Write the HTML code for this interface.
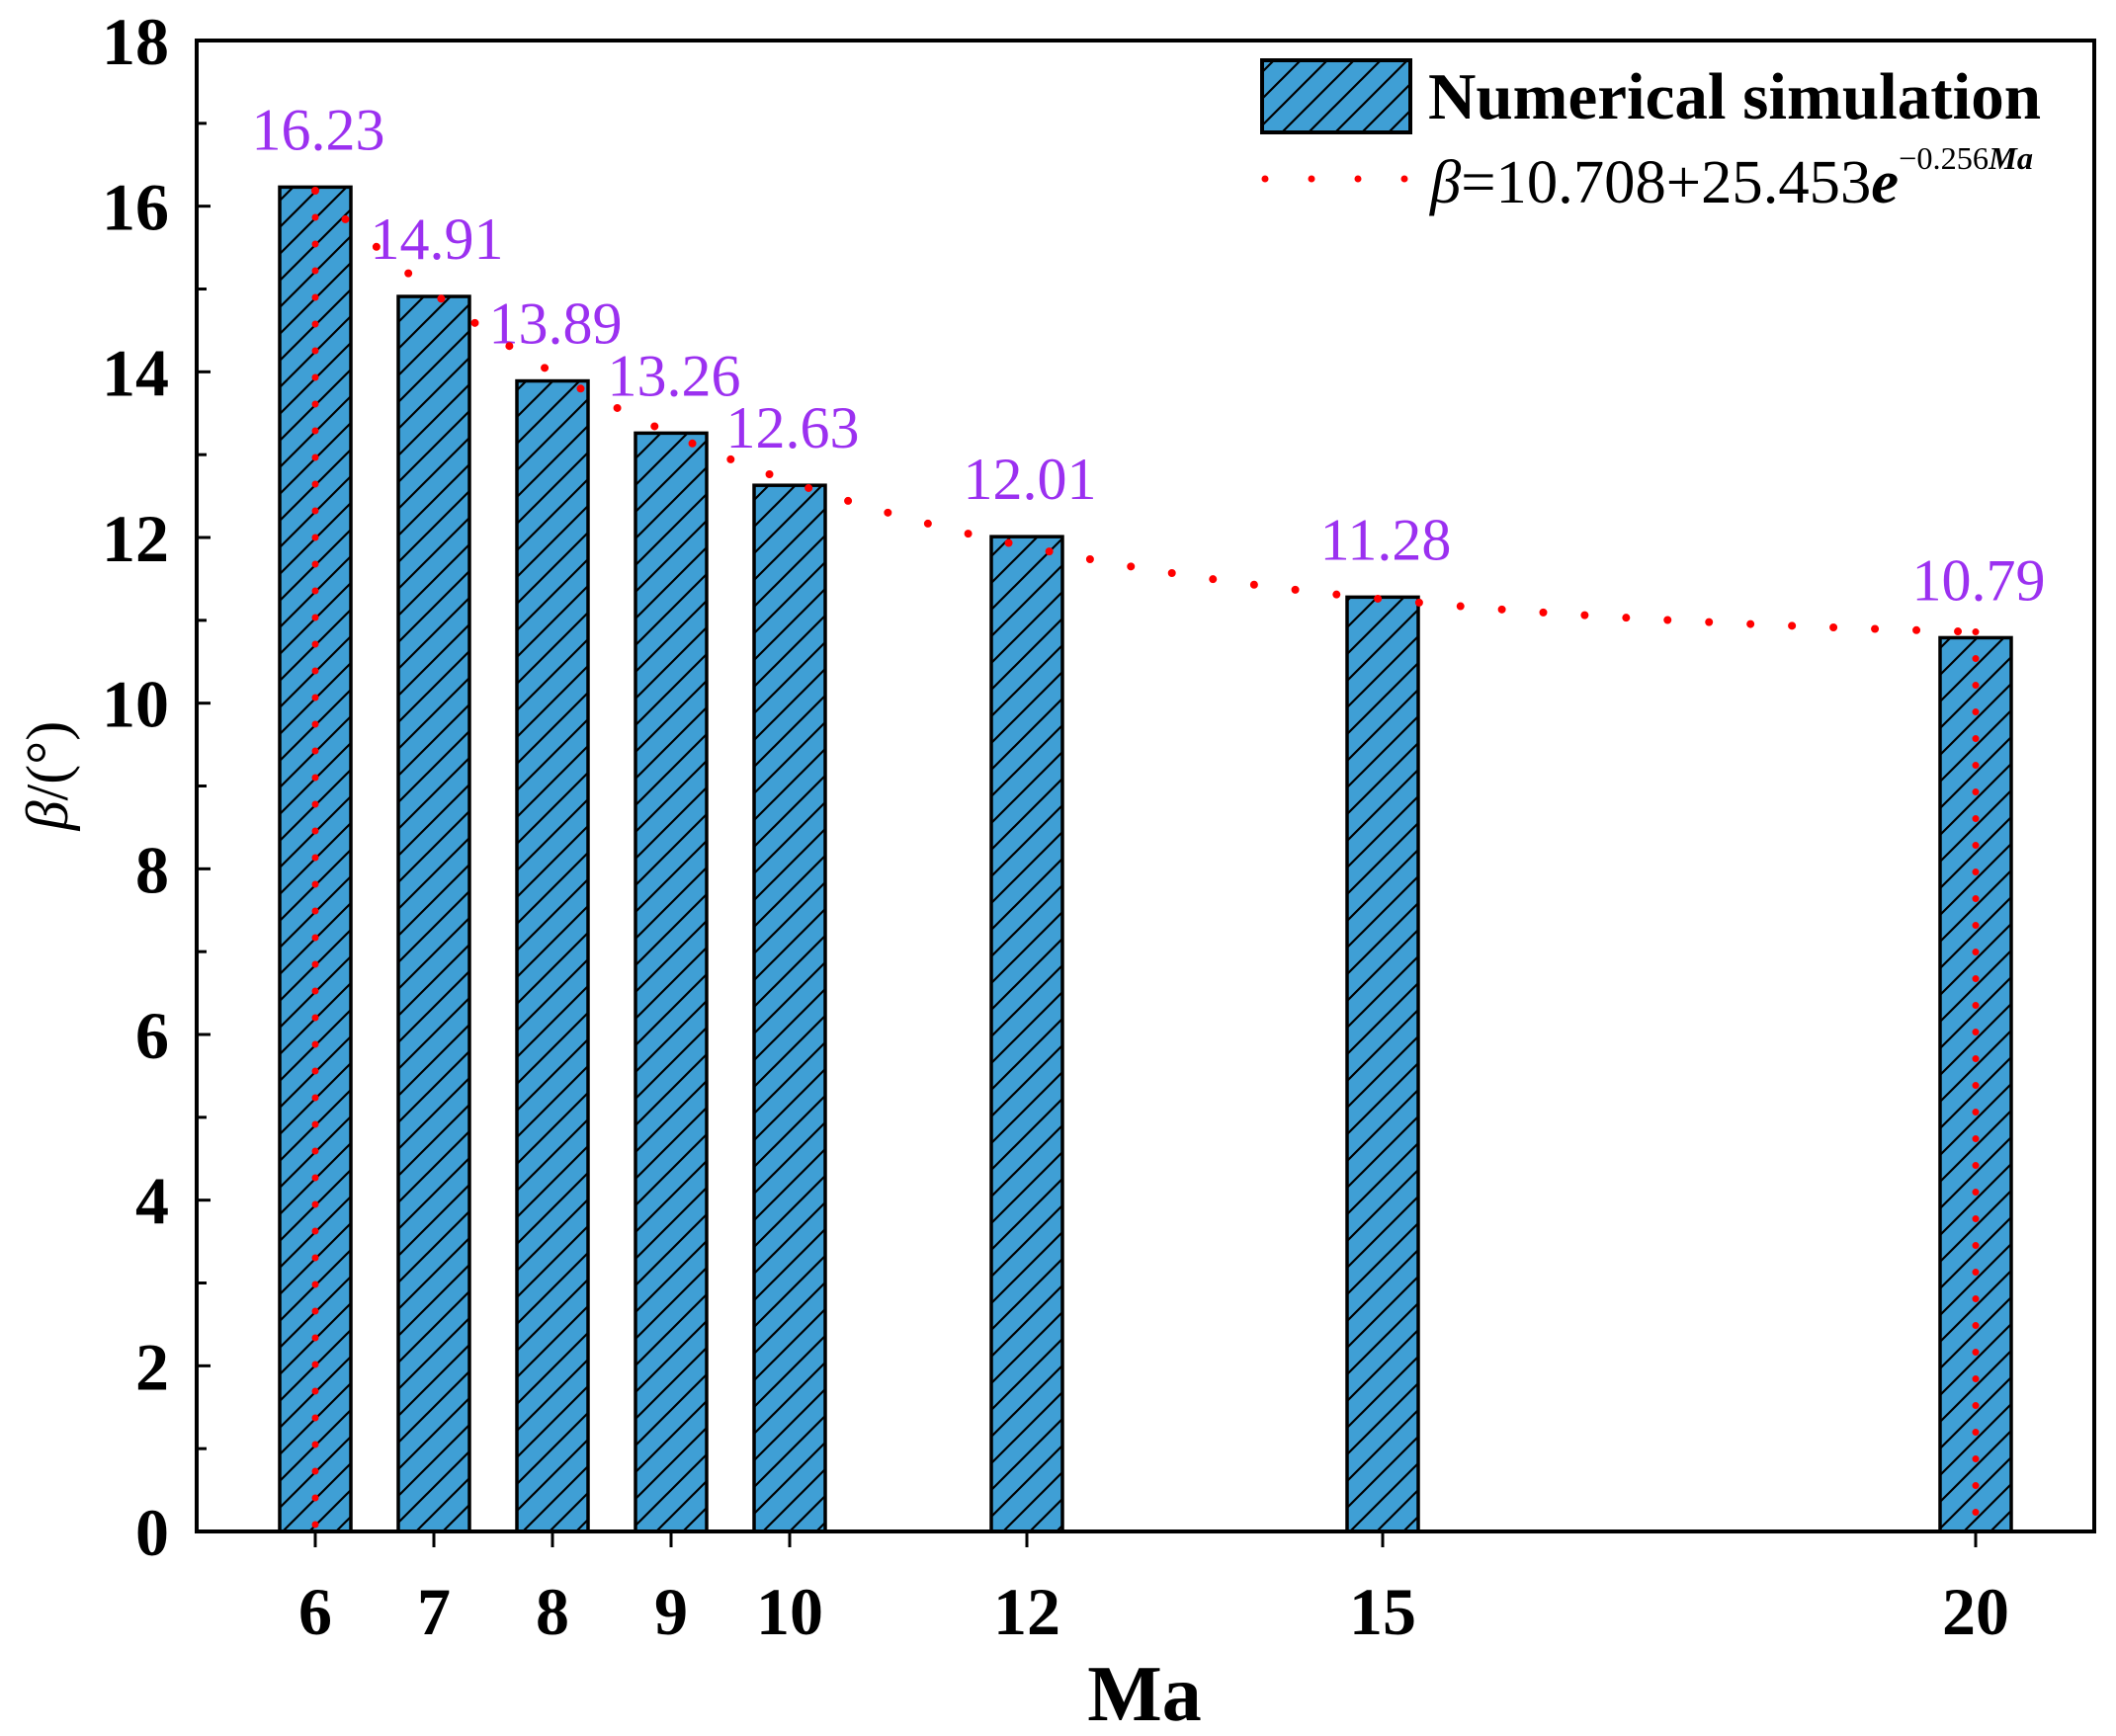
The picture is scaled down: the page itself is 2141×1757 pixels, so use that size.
<!DOCTYPE html>
<html><head><meta charset="utf-8"><style>
html,body{margin:0;padding:0;background:#fff;}
svg{display:block;}
</style></head><body>
<svg id="chart" width="2141" height="1757" viewBox="0 0 2141 1757" xmlns="http://www.w3.org/2000/svg">
<defs>
<pattern id="hatch" patternUnits="userSpaceOnUse" width="27" height="27" patternTransform="translate(0,0)">
<rect width="27" height="27" fill="#3f9fd5"/>
<path d="M-2,29 L29,-2 M-9,9 L9,-9 M18,36 L36,18" stroke="#000" stroke-width="2.2"/>
</pattern>
</defs>
<g id="plot"></g>
</svg>
<script>
const categories = [6, 7, 8, 9, 10, 12, 15, 20];
const values = [16.23, 14.91, 13.89, 13.26, 12.63, 12.01, 11.28, 10.79];
const labels = ["16.23", "14.91", "13.89", "13.26", "12.63", "12.01", "11.28", "10.79"];
const yTicks = [0, 2, 4, 6, 8, 10, 12, 14, 16, 18];
const fitA = [10.708];
const fitB = [25.453];
const fitK = [0.256];

const L = 199, R = 2119, T = 41, B = 1550;
const xMin = 5, xMax = 21, yMin = 0, yMax = 18;
const sx = v => L + (v - xMin) / (xMax - xMin) * (R - L);
const sy = v => B - (v - yMin) / (yMax - yMin) * (B - T);
const NS = "http://www.w3.org/2000/svg";
const g = document.getElementById('plot');
function mk(tag, attrs, parent) {
  const e = document.createElementNS(NS, tag);
  for (const k in attrs) e.setAttribute(k, attrs[k]);
  (parent || g).appendChild(e);
  return e;
}
const barW = 0.6 * (R - L) / (xMax - xMin);

// bars
categories.forEach((c, i) => {
  const r = mk('rect', {x: sx(c) - barW / 2, y: sy(values[i]), width: barW, height: sy(0) - sy(values[i]), fill: 'url(#hatch)', stroke: '#000', 'stroke-width': 3.5});
  
  
  const t = mk('text', {x: sx(c) + 3, y: sy(values[i]) - 38, 'text-anchor': 'middle', 'font-family': '"Liberation Serif", serif', 'font-size': 60, fill: '#9b30f0'});
  t.textContent = labels[i];
  
  
});

// fit curve
let d = '';
for (let m = 6; m <= 20.001; m += 0.1) {
  const y = fitA[0] + fitB[0] * Math.exp(-fitK[0] * m);
  d += (d ? ' L' : 'M') + sx(m).toFixed(1) + ',' + sy(y).toFixed(1);
}
const fit = mk('path', {d: d, fill: 'none', stroke: '#f00', 'stroke-width': 8, 'stroke-linecap': 'round', 'stroke-dasharray': '0 42'});


[[6, fitA[0] + fitB[0] * Math.exp(-fitK[0] * 6)], [20, fitA[0] + fitB[0] * Math.exp(-fitK[0] * 20)]].forEach(p => {
  const v = mk('line', {x1: sx(p[0]), y1: sy(p[1]), x2: sx(p[0]), y2: sy(0), stroke: '#f00', 'stroke-width': 7, 'stroke-linecap': 'round', 'stroke-dasharray': '0 27'});
  
  
});

// axes frame
const frame = mk('rect', {x: L, y: T, width: R - L, height: B - T, fill: 'none', stroke: '#000', 'stroke-width': 4});



// y ticks
yTicks.forEach(v => {
  mk('line', {x1: L, x2: L + 14, y1: sy(v), y2: sy(v), stroke: '#000', 'stroke-width': 3});
  const t = mk('text', {x: L - 28, y: sy(v) + 24, 'text-anchor': 'end', 'font-family': '"Liberation Serif", serif', 'font-weight': 'bold', 'font-size': 68});
  t.textContent = v;
  
  
  if (v < yMax) mk('line', {x1: L, x2: L + 10, y1: sy(v + 1), y2: sy(v + 1), stroke: '#000', 'stroke-width': 3});
});
// x ticks
categories.forEach(c => {
  mk('line', {x1: sx(c), x2: sx(c), y1: B, y2: B + 16, stroke: '#000', 'stroke-width': 3});
  const t = mk('text', {x: sx(c), y: B + 104, 'text-anchor': 'middle', 'font-family': '"Liberation Serif", serif', 'font-weight': 'bold', 'font-size': 68});
  t.textContent = c;
  
  
});
</script>
<svg style="position:absolute;left:0;top:0" width="2141" height="1757">
<text x="1158" y="1741" text-anchor="middle" font-family="Liberation Serif, serif" font-weight="bold" font-size="80">Ma</text>
<text transform="translate(68,785) rotate(-90)" text-anchor="middle" font-family="Liberation Serif, serif" font-size="60"><tspan font-style="italic">β</tspan>/(°)</text>
<g>
<rect x="1277" y="61" width="150" height="73" fill="url(#hatch)" stroke="#000" stroke-width="4"/>
<text x="1445" y="120" font-family="Liberation Serif, serif" font-weight="bold" font-size="67" textLength="620" lengthAdjust="spacingAndGlyphs">Numerical simulation</text>
<line x1="1280" y1="181" x2="1422" y2="181" stroke="#f00" stroke-width="7" stroke-linecap="round" stroke-dasharray="0 47"/>
<text x="1447" y="205" font-family="Liberation Serif, serif" font-size="62" textLength="610" lengthAdjust="spacingAndGlyphs"><tspan font-style="italic">β</tspan>=10.708+25.453<tspan font-style="italic" font-weight="bold">e</tspan><tspan font-size="32" dy="-34">−0.256</tspan><tspan font-size="32" font-style="italic" font-weight="bold">Ma</tspan></text>
</g>
</svg>
</body></html>
